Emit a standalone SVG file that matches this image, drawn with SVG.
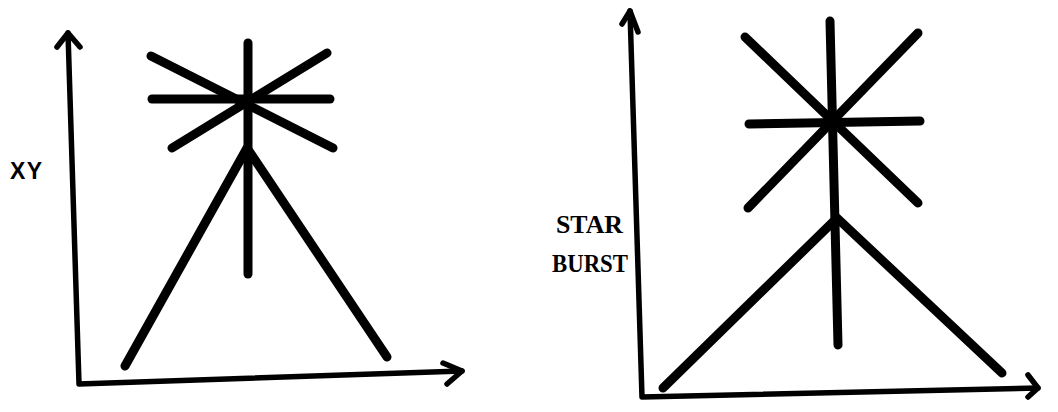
<svg xmlns="http://www.w3.org/2000/svg" width="1058" height="412" viewBox="0 0 1058 412">
<style>
.s{stroke:#000;stroke-width:9;stroke-linecap:round;fill:none;stroke-linejoin:round}
.a{stroke:#000;stroke-width:5.5;stroke-linecap:round;fill:none;stroke-linejoin:round}
.sans{font-family:"Liberation Sans",Arial,sans-serif;font-weight:bold;font-size:23px;fill:#000}
.serif{font-family:"Liberation Serif","Times New Roman",serif;font-weight:bold;font-size:25px;fill:#000}
</style>
<rect width="1058" height="412" fill="#fff"/>
<g id="left-axes">
<polyline class="a" points="68,33 79,384 462,371"/>
<polyline class="a" points="57,47 68,33 80,47"/>
<polyline class="a" points="443,363 462,371 447,384"/>
</g>
<g id="left-star">
<line class="s" x1="248" y1="43" x2="248" y2="274"/>
<line class="s" x1="152" y1="99" x2="330" y2="99"/>
<line class="s" x1="151" y1="56" x2="333" y2="148"/>
<line class="s" x1="327" y1="53" x2="172" y2="148"/>
<polyline class="s" points="125,366 247,148 387,357"/>
</g>
<g id="right-axes">
<polyline class="a" points="630,11 642,397 1038,388"/>
<polyline class="a" points="622,24 630,11 638,32"/>
<polyline class="a" points="1028,375 1038,388 1028,397"/>
</g>
<g id="right-star">
<line class="s" x1="830" y1="21" x2="838" y2="345"/>
<line class="s" x1="749" y1="124" x2="920" y2="121"/>
<line class="s" x1="745" y1="37" x2="918" y2="203"/>
<line class="s" x1="918" y1="33" x2="748" y2="208"/>
<polyline class="s" points="663,388 837,218 1002,373"/>
</g>
<g id="labels">
<text class="sans" x="10" y="179" letter-spacing="1.5">XY</text>
<text class="serif" x="556" y="233" textLength="67" lengthAdjust="spacingAndGlyphs">STAR</text>
<text class="serif" x="552" y="272" textLength="76" lengthAdjust="spacingAndGlyphs">BURST</text>
</g>
</svg>
